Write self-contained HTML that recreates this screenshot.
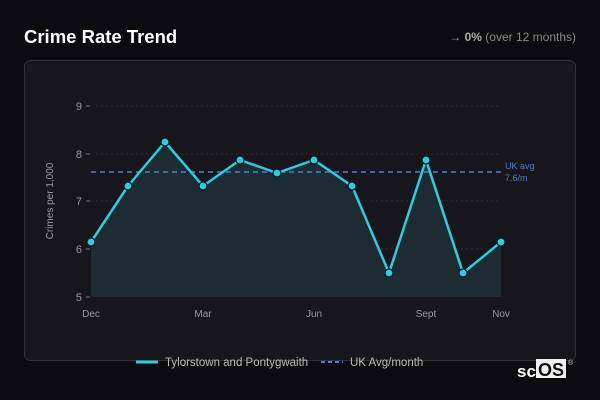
<!DOCTYPE html>
<html><head><meta charset="utf-8"><style>
body{margin:0;width:600px;height:400px;background:#0c0b10;overflow:hidden;font-family:"Liberation Sans",sans-serif}
</style></head><body>
<svg width="600" height="400" xmlns="http://www.w3.org/2000/svg" style="position:absolute;left:0;top:0" font-family="Liberation Sans, sans-serif">
<text x="24" y="43" fill="#fff" font-size="18.5" font-weight="bold">Crime Rate Trend</text>
<text x="576" y="41" fill="#888" font-size="12" text-anchor="end"><tspan fill="#999">→ </tspan><tspan fill="#aaa" font-weight="bold">0%</tspan> (over 12 months)</text>
<rect x="24.5" y="60.5" width="551" height="300" rx="6" fill="#17161c" stroke="#33323a"/>
<g stroke="#2e2d34" stroke-dasharray="2,3">
<line x1="91" x2="501" y1="106" y2="106"/><line x1="91" x2="501" y1="154" y2="154"/><line x1="91" x2="501" y1="201" y2="201"/><line x1="91" x2="501" y1="249" y2="249"/>
</g>
<g stroke="#777"><line x1="86" x2="90" y1="106" y2="106"/><line x1="86" x2="90" y1="154" y2="154"/><line x1="86" x2="90" y1="201" y2="201"/><line x1="86" x2="90" y1="249" y2="249"/><line x1="86" x2="90" y1="297" y2="297"/></g>
<g fill="#999" font-size="11" text-anchor="end">
<text x="82" y="110">9</text><text x="82" y="158">8</text><text x="82" y="205">7</text><text x="82" y="253">6</text><text x="82" y="301">5</text></g>
<text transform="translate(53,201) rotate(-90)" fill="#999" font-size="10" text-anchor="middle">Crimes per 1,000</text>
<g fill="#999" font-size="10" text-anchor="middle">
<text x="91" y="317">Dec</text><text x="203" y="317">Mar</text><text x="314" y="317">Jun</text><text x="426" y="317">Sept</text><text x="501" y="317">Nov</text></g>
<polygon fill="#1d2c33" points="91,297 91,242 128,186 165,142 203,186 240,160 277,173 314,160 352,186 389,273 426,160 463,273 501,242 501,297"/>
<line x1="91" x2="501" y1="172" y2="172" stroke="#4b7fd6" stroke-width="1.5" stroke-dasharray="5,4"/>
<text x="505" y="169" fill="#4b7fd6" font-size="9">UK avg</text>
<text x="505" y="181" fill="#4b7fd6" font-size="9">7.6/m</text>
<polyline fill="none" stroke="#2fcbe3" stroke-width="2.5" stroke-linejoin="round" points="91,242 128,186 165,142 203,186 240,160 277,173 314,160 352,186 389,273 426,160 463,273 501,242"/>
<g fill="#2fcbe3" stroke="#0c1a20" stroke-width="1.2">
<circle cx="91" cy="242" r="4"/><circle cx="128" cy="186" r="4"/><circle cx="165" cy="142" r="4"/><circle cx="203" cy="186" r="4"/><circle cx="240" cy="160" r="4"/><circle cx="277" cy="173" r="4"/><circle cx="314" cy="160" r="4"/><circle cx="352" cy="186" r="4"/><circle cx="389" cy="273" r="4"/><circle cx="426" cy="160" r="4"/><circle cx="463" cy="273" r="4"/><circle cx="501" cy="242" r="4"/></g>
<line x1="136" x2="158" y1="362" y2="362" stroke="#2fcbe3" stroke-width="3"/>
<text x="165" y="366" fill="#bbb" font-size="11.5">Tylorstown and Pontygwaith</text>
<line x1="321" x2="343" y1="362" y2="362" stroke="#4b7fd6" stroke-width="2" stroke-dasharray="4,3"/>
<text x="350" y="366" fill="#bbb" font-size="11.5">UK Avg/month</text>
<text x="517" y="377" fill="#fff" font-size="17" font-weight="bold">sc</text>
<rect x="536" y="359" width="30" height="19" fill="#f0f0f0"/>
<text x="538" y="376" fill="#111" font-size="18" font-weight="bold">OS</text>
<text x="568" y="365" fill="#ccc" font-size="7">®</text>
</svg>
</body></html>
